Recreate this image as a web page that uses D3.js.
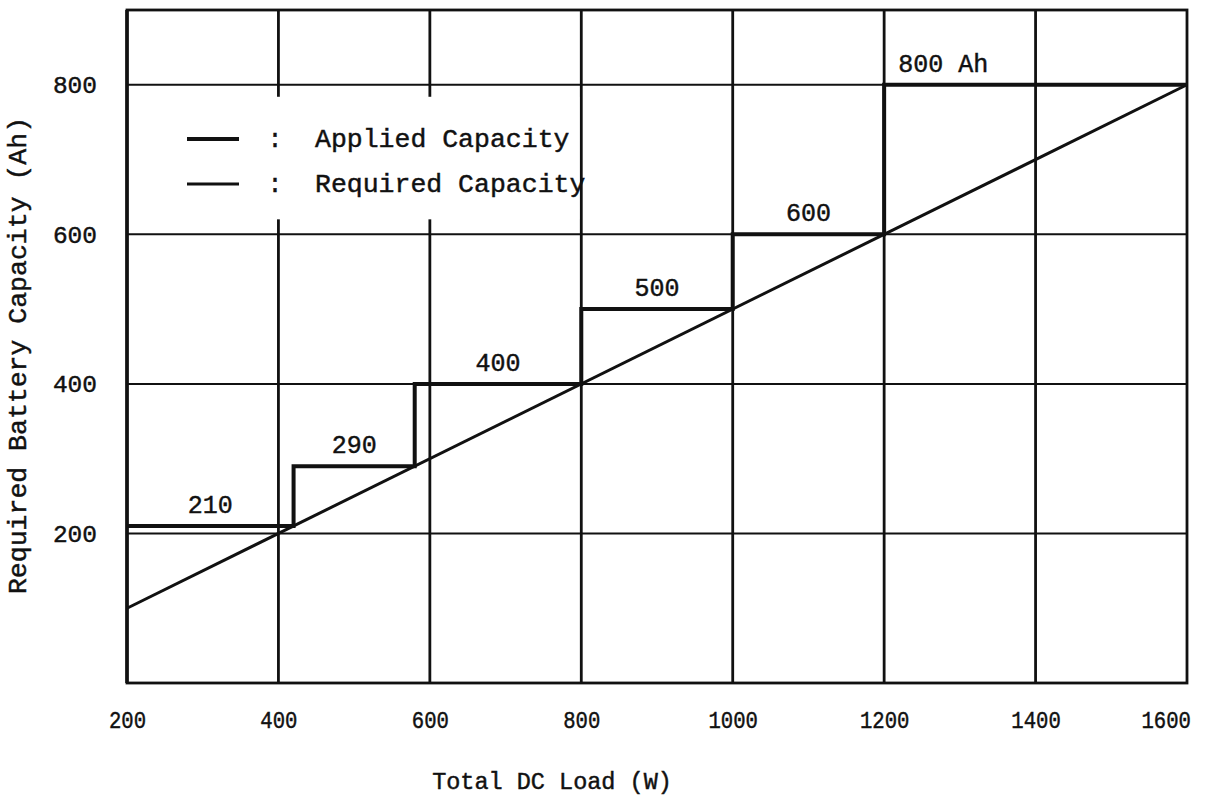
<!DOCTYPE html>
<html>
<head>
<meta charset="utf-8">
<script src="https://cdn.jsdelivr.net/npm/d3@7"></script>
<style>
  html, body { margin: 0; padding: 0; background: #fff; }
  svg { display: block; }
  text {
    fill: #111;
    font-family: "Liberation Mono", "DejaVu Sans Mono", monospace;
    stroke: #111; stroke-width: 0.45px; paint-order: stroke;
  }
</style>
</head>
<body>
<svg id="chart" width="1213" height="809"></svg>
<script>
// Total DC load (W) tick values along the bottom axis
const loadTicks = [200, 400, 600, 800, 1000, 1200, 1400, 1600];
// Battery capacity (Ah) tick values along the left axis
const capacityTicks = [200, 400, 600, 800];

// Required capacity: straight line across the load range
const requiredLoad = [200, 1600];
const requiredAh = [100, 800];

// Applied capacity: battery size chosen for each load band
const stepStartLoad = [200, 420, 580, 800, 1000, 1200];
const stepEndLoad = 1600;
const stepAh = [210, 290, 400, 500, 600, 800];
const stepLabels = ["210", "290", "400", "500", "600", "800 Ah"];

const legendItems = ["Applied Capacity", "Required Capacity"];

const svg = d3.select("#chart");
const W = 1213, H = 809;
const margin = { left: 127, right: 26, top: 10, bottom: 126 };

const x = d3.scaleLinear().domain([200, 1600]).range([margin.left, W - margin.right]);
const y = d3.scaleLinear().domain([0, 900]).range([H - margin.bottom, margin.top]);

const ink = "#111";

// Grid: vertical lines at every load tick, horizontal at every capacity tick
const grid = svg.append("g");
grid.selectAll("line.v")
  .data(loadTicks.slice(1, -1))
  .join("line")
  .attr("x1", d => x(d)).attr("x2", d => x(d))
  .attr("y1", y.range()[1]).attr("y2", y.range()[0])
  .attr("stroke", ink).attr("stroke-width", 2.8);
grid.selectAll("line.h")
  .data(capacityTicks)
  .join("line")
  .attr("x1", x.range()[0]).attr("x2", x.range()[1])
  .attr("y1", d => y(d)).attr("y2", d => y(d))
  .attr("stroke", ink).attr("stroke-width", 2);

// Legend sits on a white patch that interrupts the grid
const legend = svg.append("g");
legend.append("rect")
  .attr("x", 150).attr("y", y(800) + 12)
  .attr("width", x(800) - 150 - 2).attr("height", y(600) - y(800) - 27)
  .attr("fill", "#fff");
const legendRowY = [139, 184];
legendItems.forEach((label, i) => {
  legend.append("line")
    .attr("x1", 187).attr("x2", 239)
    .attr("y1", legendRowY[i]).attr("y2", legendRowY[i])
    .attr("stroke", ink).attr("stroke-width", i === 0 ? 4 : 2.8);
  legend.append("text")
    .attr("x", 275).attr("y", legendRowY[i] + 8)
    .attr("text-anchor", "middle")
    .attr("font-size", 25).text(":");
  legend.append("text")
    .attr("x", 315).attr("y", legendRowY[i] + 8)
    .attr("font-size", 26.5).text(label);
});

// Plot frame
svg.append("rect")
  .attr("x", x.range()[0]).attr("y", y.range()[1])
  .attr("width", x.range()[1] - x.range()[0])
  .attr("height", y.range()[0] - y.range()[1])
  .attr("fill", "none").attr("stroke", ink).attr("stroke-width", 2.8);
svg.append("line")
  .attr("x1", x.range()[0]).attr("x2", x.range()[0])
  .attr("y1", y.range()[1]).attr("y2", y.range()[0])
  .attr("stroke", ink).attr("stroke-width", 3.6);

// Required capacity line
const requiredPts = requiredLoad.map((d, i) => [d, requiredAh[i]]);
svg.append("path")
  .datum(requiredPts)
  .attr("d", d3.line().x(d => x(d[0])).y(d => y(d[1])))
  .attr("fill", "none").attr("stroke", ink).attr("stroke-width", 3);

// Applied capacity staircase
const stepPts = stepStartLoad.map((d, i) => [d, stepAh[i]]);
stepPts.push([stepEndLoad, stepAh[stepAh.length - 1]]);
svg.append("path")
  .datum(stepPts)
  .attr("d", d3.line().curve(d3.curveStepAfter).x(d => x(d[0])).y(d => y(d[1])))
  .attr("fill", "none").attr("stroke", ink).attr("stroke-width", 4)
  .attr("stroke-linejoin", "miter");

// Capacity labels above each step
const lastIdx = stepAh.length - 1;
svg.append("g").selectAll("text")
  .data(stepAh)
  .join("text")
  .attr("x", (d, i) => i === lastIdx
    ? x(stepStartLoad[i]) + 14
    : (x(stepStartLoad[i]) + x(stepStartLoad[i + 1])) / 2)
  .attr("y", d => y(d) - 13)
  .attr("text-anchor", (d, i) => i === lastIdx ? "start" : "middle")
  .attr("font-size", 25)
  .text((d, i) => stepLabels[i]);

// Axes (labels only; grid and frame are drawn above)
const xAxis = svg.append("g")
  .attr("transform", `translate(0,${y.range()[0]})`)
  .call(d3.axisBottom(x).tickValues(loadTicks).tickSize(0).tickPadding(28).tickFormat(d3.format("d")));
xAxis.select(".domain").remove();
xAxis.selectAll("text")
  .attr("font-size", 24)
  .attr("font-family", "'Liberation Mono', monospace")
  .attr("fill", ink)
  .attr("transform", "scale(0.86,1)");
// keep the last label inside the page by ending it at the tick
xAxis.selectAll(".tick").filter(d => d === loadTicks[loadTicks.length - 1])
  .select("text").attr("text-anchor", "end").attr("x", 4);

const yAxis = svg.append("g")
  .attr("transform", `translate(${x.range()[0]},0)`)
  .call(d3.axisLeft(y).tickValues(capacityTicks).tickSize(0).tickPadding(30).tickFormat(d3.format("d")));
yAxis.select(".domain").remove();
yAxis.selectAll("text")
  .attr("font-size", 24.5)
  .attr("font-family", "'Liberation Mono', monospace")
  .attr("fill", ink);

// Axis titles
svg.append("text")
  .attr("x", 552).attr("y", 789)
  .attr("text-anchor", "middle")
  .attr("font-size", 23.5)
  .text("Total DC Load (W)");
svg.append("text")
  .attr("transform", `translate(26,${(y.range()[0] + y.range()[1]) / 2 + 9}) rotate(-90)`)
  .attr("text-anchor", "middle")
  .attr("font-size", 26.5)
  .text("Required Battery Capacity (Ah)");
</script>
</body>
</html>
